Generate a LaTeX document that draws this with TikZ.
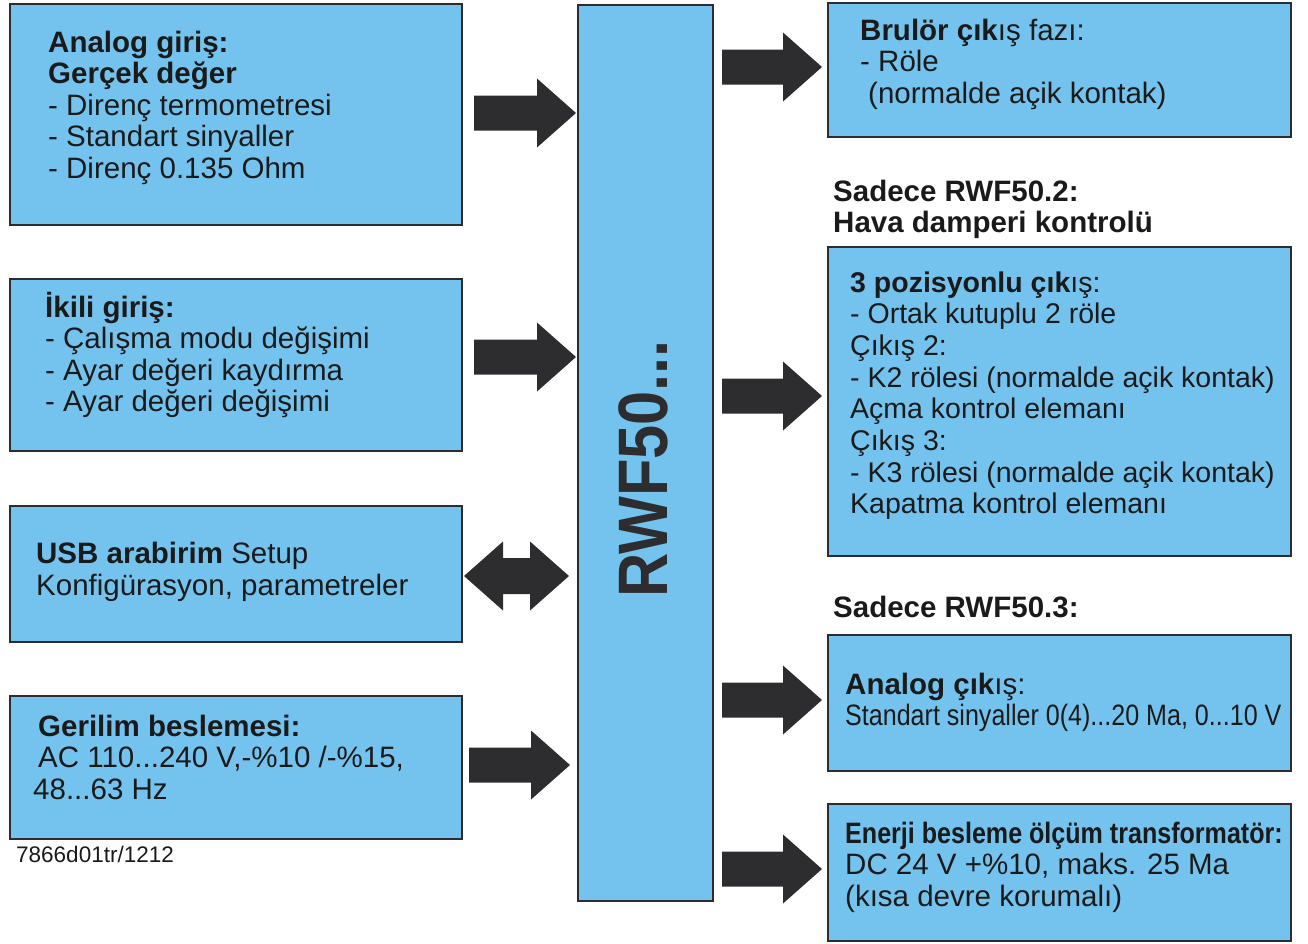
\documentclass[tikz,border=0pt]{standalone}
\usepackage{fontspec}
\setmainfont{Liberation Sans}
\newfontfamily\condfont[FakeStretch=0.85]{Liberation Sans}
\newfontfamily\rwffont[FakeStretch=0.876]{Liberation Sans}
\definecolor{boxblue}{RGB}{116,195,238}
\definecolor{edgegray}{RGB}{45,45,48}
\definecolor{inkc}{RGB}{26,26,26}
\newcommand{\btext}[1]{\parbox[t]{470pt}{\raggedright #1}}
\newcommand{\rarr}[3]{% tail x, tip x, centre y
  \fill[arrowfill] (#1,#3-17.5) -- (#2-39,#3-17.5) -- (#2-39,#3-34.5) -- (#2,#3)
    -- (#2-39,#3+34.5) -- (#2-39,#3+17.5) -- (#1,#3+17.5) -- cycle;}
\tikzset{
  blbox/.style={draw=edgegray, fill=boxblue, line width=2.4pt, inner sep=0pt, anchor=north west},
  arrowfill/.style={fill=edgegray},
  txt/.style={anchor=base west, inner sep=0pt, text=inkc, font=\fontsize{29.5}{31.6}\selectfont},
}
\begin{document}
\begin{tikzpicture}[x=1pt,y=-1pt]
\useasboundingbox (0,0) rectangle (1308,943);
% left boxes
\node[blbox, minimum width=452pt, minimum height=221pt] (b1) at (9,3) {};
\node[blbox, minimum width=452pt, minimum height=172pt] (b2) at (9,278) {};
\node[blbox, minimum width=452pt, minimum height=136pt] (b3) at (9,505) {};
\node[blbox, minimum width=452pt, minimum height=143pt] (b4) at (9,695) {};
% centre box
\node[blbox, minimum width=135pt, minimum height=896pt] (c) at (577,4) {};
% right boxes
\node[blbox, minimum width=463pt, minimum height=134pt] (r1) at (827,2) {};
\node[blbox, minimum width=463pt, minimum height=309pt] (r2) at (827,246) {};
\node[blbox, minimum width=463pt, minimum height=136pt] (r3) at (827,634) {};
\node[blbox, minimum width=463pt, minimum height=137pt] (r4) at (827,803) {};
% block arrows
\rarr{474}{576}{113}
\rarr{474}{576}{357}
\rarr{469}{570}{765}
\rarr{722}{822}{67}
\rarr{722}{822}{396}
\rarr{722}{822}{700}
\rarr{722}{822}{869}
\fill[arrowfill] (464,576) -- (503,541.5) -- (503,558) -- (530,558) -- (530,541.5) -- (569,576)
  -- (530,610.5) -- (530,594) -- (503,594) -- (503,610.5) -- cycle;
% centre label
\node[rotate=90, text=edgegray, inner sep=0pt, font=\rwffont\bfseries\fontsize{70}{70}\selectfont] (rwf) at (643,469) {RWF50...};
% texts
\node[txt] (t1) at (48,52) {\btext{\textbf{Analog giriş:}\\ \textbf{Gerçek değer}\\ - Direnç termometresi\\ - Standart sinyaller\\ - Direnç 0.135 Ohm}};
\node[txt] (t2) at (45,317) {\btext{\textbf{İkili giriş:}\\ - Çalışma modu değişimi\\ - Ayar değeri kaydırma\\ - Ayar değeri değişimi}};
\node[txt] (t3) at (36,563) {\btext{\textbf{USB arabirim} Setup\\[1pt] Konfigürasyon, parametreler}};
\node[txt] (t4) at (38,736) {\btext{\textbf{Gerilim beslemesi:}\\ AC 110...240 V,-\%10 /-\%15,\\ \hspace*{-5pt}48...63 Hz}};
\node[txt, font=\fontsize{22.5}{24}\selectfont] (code) at (16,862) {7866d01tr/1212};
\node[txt] (tr1) at (860,40) {\btext{\textbf{Brulör çık}ış fazı:\\ - Röle\\ \hspace*{8pt}(normalde açik kontak)}};
\node[txt] (l2) at (833,201) {\btext{\textbf{Sadece RWF50.2:}\\ \textbf{Hava damperi kontrolü}}};
\node[txt, font=\fontsize{28.5}{31.7}\selectfont] (tr2) at (850,292) {\btext{\textbf{3 pozisyonlu çık}ış:\\ - Ortak kutuplu 2 röle\\ Çıkış 2:\\ - K2 rölesi (normalde açik kontak)\\ Açma kontrol elemanı\\ Çıkış 3:\\ - K3 rölesi (normalde açik kontak)\\ Kapatma kontrol elemanı}};
\node[txt] (l3) at (833,617) {\textbf{Sadece RWF50.3:}};
\node[txt] (tr3) at (845,694) {\btext{\textbf{Analog çık}ış:\\ {\condfont Standart sinyaller 0(4)...20 Ma, 0...10 V}}};
\node[txt] (tr4) at (845,843) {\btext{{\condfont\bfseries Enerji besleme ölçüm transformatör:}\\ DC 24 V +\%10, maks. 25 Ma\\ (kısa devre korumalı)}};
\end{tikzpicture}
\end{document}
